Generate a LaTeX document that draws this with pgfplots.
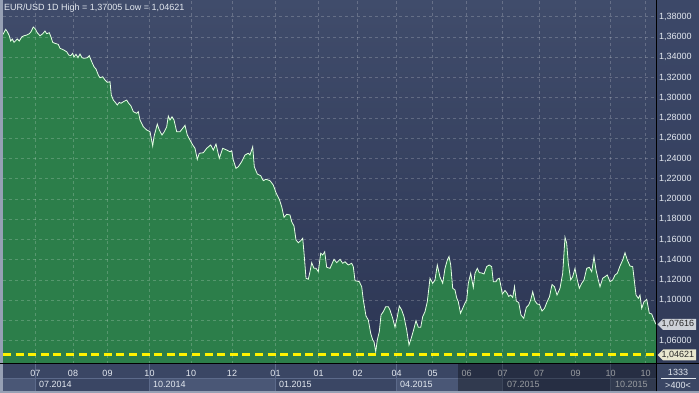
\documentclass[border=0pt]{standalone}
\usepackage{pgfplots}
\pgfplotsset{compat=1.18}
\usepackage{pgfplotstable}
\usepackage{fontspec}
\setmainfont{Liberation Sans}
\definecolor{bandc}{RGB}{58,70,100}
\definecolor{boxc}{RGB}{74,87,118}
\definecolor{sepc}{RGB}{92,106,138}
\definecolor{bgtop}{RGB}{64,76,107}
\definecolor{bgbot}{RGB}{44,54,84}
\definecolor{paneltop}{RGB}{60,72,104}
\definecolor{panelbot}{RGB}{48,58,88}
\definecolor{greenc}{RGB}{44,126,74}
\definecolor{linec}{RGB}{228,255,228}
\definecolor{labc}{RGB}{228,233,240}
\definecolor{edgec}{RGB}{150,160,180}
\definecolor{tagone}{RGB}{206,210,216}
\definecolor{tagtwo}{RGB}{232,230,206}
\definecolor{tagtext}{RGB}{40,40,40}

\pgfplotstableread{
x y
3 1.3627
5.7 1.3677
7.3 1.3653
9.3 1.3613
10.7 1.3561
12.3 1.3581
14 1.3548
16 1.3568
17.3 1.3581
19.3 1.3561
21.7 1.3601
24 1.3613
26.7 1.3620
29.3 1.3633
31 1.3653
33.3 1.3700
35.3 1.3680
37.3 1.3643
40 1.3613
42.7 1.3633
45 1.3660
46.7 1.3633
49.3 1.3643
51 1.3601
52.7 1.3548
55 1.3538
58.3 1.3528
60 1.3489
63.3 1.3475
66.7 1.3455
68.7 1.3423
70.7 1.3416
72.7 1.3440
74 1.3403
76 1.3430
78 1.3396
80 1.3433
82 1.3396
84 1.3390
87.3 1.3396
89.3 1.3416
91.7 1.3357
94 1.3307
96 1.3284
98.3 1.3225
100 1.3198
102.7 1.3208
105 1.3176
107.3 1.3153
110 1.3159
111.3 1.3028
113.3 1.2978
115.3 1.2955
117.3 1.2929
119.3 1.2955
121 1.2946
124 1.2965
126.7 1.2978
128.3 1.2951
131 1.2919
133.3 1.2863
136.7 1.2847
138.3 1.2863
140 1.2781
143.3 1.2714
146.7 1.2682
150 1.2665
152.7 1.2524
154 1.2616
157.3 1.2741
159.3 1.2682
162 1.2632
164.3 1.2665
166.7 1.2714
168.3 1.2820
170 1.2781
172 1.2813
174 1.2781
176.7 1.2665
180 1.2665
182.7 1.2699
185 1.2728
187.3 1.2632
190 1.2583
192.7 1.2534
195 1.2501
197.3 1.2392
199.3 1.2452
203.3 1.2457
206.7 1.2501
210.7 1.2534
213.3 1.2484
216 1.2543
219.3 1.2402
222.7 1.2501
226.7 1.2484
230 1.2467
231.7 1.2477
233.3 1.2385
236 1.2303
238.3 1.2319
241.7 1.2369
245 1.2435
248.3 1.2452
250 1.2435
252.7 1.2517
254.3 1.2319
257.3 1.2247
260.7 1.2230
263.3 1.2181
266 1.2195
270 1.2181
273.3 1.2138
276 1.2062
279.3 1.1997
281.7 1.1924
284 1.1819
286.7 1.1849
290 1.1842
291.7 1.1776
294 1.1733
296 1.1595
298.3 1.1568
300.7 1.1588
302.7 1.1612
304 1.1469
306 1.1217
308.3 1.1207
310 1.1282
311.7 1.1371
314 1.1315
316 1.1315
318.3 1.1282
320.7 1.1464
322.7 1.1447
324.7 1.1479
326.7 1.1325
330 1.1315
334 1.1404
336.7 1.1371
340 1.1404
342.7 1.1365
345 1.1380
348.3 1.1348
351.7 1.1365
353.3 1.1331
355 1.1193
359.3 1.1183
361.7 1.1133
363.3 1.1002
366 1.0844
368.3 1.0804
370.7 1.0673
372.7 1.0607
374 1.0590
375.7 1.0491
377.3 1.0607
379.3 1.0689
381 1.0854
383.3 1.0887
385.7 1.0936
388.3 1.0936
390 1.0903
392.7 1.0821
395 1.0732
397.3 1.0837
399.3 1.0943
401.7 1.0903
404 1.0837
406.7 1.0706
409 1.0557
411.7 1.0640
414 1.0722
416 1.0798
418.3 1.0732
420.7 1.0732
422.7 1.0837
425 1.0887
427.3 1.0985
430 1.1217
432.7 1.1167
435 1.1200
437.3 1.1348
440 1.1229
442.7 1.1167
445 1.1315
447.3 1.1397
449 1.1432
450.7 1.1348
452.7 1.1118
455 1.1101
456.7 1.1022
458.3 1.0985
460.5 1.0871
462.7 1.0920
465 1.0972
466.7 1.1002
468.3 1.1167
470.7 1.1266
473.3 1.1126
475 1.1266
477.3 1.1315
479.3 1.1272
481.7 1.1269
484 1.1259
486.7 1.1333
489.3 1.1348
491.7 1.1331
493.3 1.1183
496 1.1183
497.3 1.1207
499.3 1.1217
500.7 1.1150
502.3 1.1061
505 1.1096
507 1.1071
508.7 1.1037
510.7 1.1051
512.7 1.1027
514.5 1.1135
516.3 1.0992
518.7 1.0977
521 1.0854
523.7 1.0821
526.3 1.0928
528.7 1.0953
530.7 1.1002
532.7 1.1084
535 1.0992
537.3 1.0962
539.5 1.0958
542 1.0893
544.5 1.0920
547 1.0982
549.5 1.1035
552 1.1155
554.5 1.1133
557 1.1051
560 1.1118
562.7 1.1266
565 1.1622
566.7 1.1562
568.3 1.1365
570.7 1.1200
572.7 1.1232
575 1.1315
577.3 1.1200
579.3 1.1118
581.7 1.1167
584 1.1200
586.7 1.1315
589.3 1.1325
591.7 1.1282
594 1.1430
596 1.1298
598.3 1.1200
600 1.1133
602.7 1.1217
605 1.1232
607.3 1.1249
610 1.1183
612.7 1.1200
615 1.1249
617.3 1.1266
620 1.1338
622.7 1.1397
625 1.1469
627.3 1.1397
630 1.1338
632.7 1.1331
636 1.1051
638.3 1.1019
640 1.1051
641.7 1.0920
644 1.0985
646.7 1.1009
649.3 1.0871
651.7 1.0864
654 1.0804
656 1.0762
}\eurusd

\pgfplotstableread{
x y
3 1.04621
656 1.04621
}\lowline

\begin{document}
\begin{tikzpicture}[font=\fontsize{9bp}{11bp}\selectfont]
\useasboundingbox (0,0) rectangle (699bp,393bp);
% base band
\fill[bandc] (0,0) rectangle (699bp,393bp);
% right panel
\shade[top color=paneltop, bottom color=panelbot] (656bp,29bp) rectangle (699bp,393bp);
% date boxes (row 2)
\foreach \a/\b in {3/35.7, 149.3/275.5, 396.5/502.3, 610/656}{
  \fill[boxc] (\a bp,2bp) rectangle (\b bp,15bp);
}
\draw[sepc, line width=0.6bp] (3bp,15bp) -- (656bp,15bp);
\foreach \a in {35.7,149.3,275.5,396.5,502.3,610}{
  \draw[sepc, line width=0.8bp] (\a bp,2bp) -- (\a bp,29bp);
}
% row 2 labels
\foreach \xx/\t in {39/07.2014, 153/10.2014, 279/01.2015, 400/04.2015, 507/07.2015, 615/10.2015}{
  \node[anchor=base west, inner sep=0pt, text=labc] at (\xx bp,5.6bp) {\t};
}
\begin{axis}[
  at={(3bp,29bp)}, anchor=south west,
  scale only axis, width=653bp, height=364bp,
  xmin=3, xmax=656, ymin=1.03696, ymax=1.39664,
  axis line style={draw=none},
  axis background/.style={shade, top color=bgtop, bottom color=bgbot},
  axis on top,
  major tick length=0pt,
  grid=major,
  major grid style={white, opacity=0.2, dash pattern=on 3bp off 3bp, line width=0.7bp},
  xtick={35.5,73,107.5,149.5,191,232,275.5,318.5,357.5,396.5,432.5,466.5,502.5,539,575.5,610.5,645.5},
  xticklabels={07,08,09,10,10,12,01,01,02,04,05,06,07,07,09,10,10},
  xticklabel style={anchor=base, yshift=-12.3bp, inner sep=0pt, text=labc},
  ytick={1.06,1.10,1.12,1.14,1.16,1.18,1.20,1.22,1.24,1.26,1.28,1.30,1.32,1.34,1.36,1.38},
  extra y ticks={1.08},
  extra y tick labels={},
  extra y tick style={grid=major, major tick length=0pt},
  yticklabel pos=right,
  yticklabel style={anchor=west, xshift=3bp, inner sep=0pt, text=labc,
    /pgf/number format/.cd, fixed, fixed zerofill, precision=5, use comma},
  /pgf/number format/assume math mode=true,
]
\addplot[draw=none, fill=greenc] table[x=x,y=y] {\eurusd} \closedcycle;
\addplot[linec, line width=0.8bp, sharp plot] table[x=x,y=y] {\eurusd};
\addplot[yellow, line width=3bp, dash pattern=on 8bp off 4.6bp] table[x=x,y=y] {\lowline};
\end{axis}
% dimmed (future) part of date band
\fill[black, opacity=0.33] (458bp,2bp) rectangle (656bp,29bp);
% edges
\fill[edgec] (0,0) rectangle (2.5bp,393bp);
\fill[edgec] (0,0) rectangle (699bp,1.6bp);
% black separator lines
\draw[black, line width=1bp] (0,29bp) -- (699bp,29bp);
\draw[black, line width=1bp] (656.5bp,1.6bp) -- (656.5bp,393bp);
% price tags
\fill[tagone] (657.5bp,68.7bp) -- (663bp,74.2bp) -- (696bp,74.2bp) -- (696bp,63.2bp) -- (663bp,63.2bp) -- cycle;
\node[anchor=west, inner sep=0pt, text=tagtext] at (661.5bp,68.7bp) {1,07616};
\fill[tagtwo] (657.5bp,38bp) -- (663bp,43.5bp) -- (696bp,43.5bp) -- (696bp,32.5bp) -- (663bp,32.5bp) -- cycle;
\node[anchor=west, inner sep=0pt, text=tagtext] at (661.5bp,38bp) {1,04621};
% bottom right
\node[text=labc, inner sep=0pt] at (678bp,21bp) {1333};
\draw[labc, line width=0.6bp] (661bp,14.5bp) -- (696bp,14.5bp);
\node[text=labc, inner sep=0pt] at (678bp,7.5bp) {>400<};
% title
\node[anchor=west, inner sep=0pt, text=labc] at (4bp,385bp) {EUR/USD 1D High = 1,37005 Low = 1,04621};
\end{tikzpicture}
\end{document}
